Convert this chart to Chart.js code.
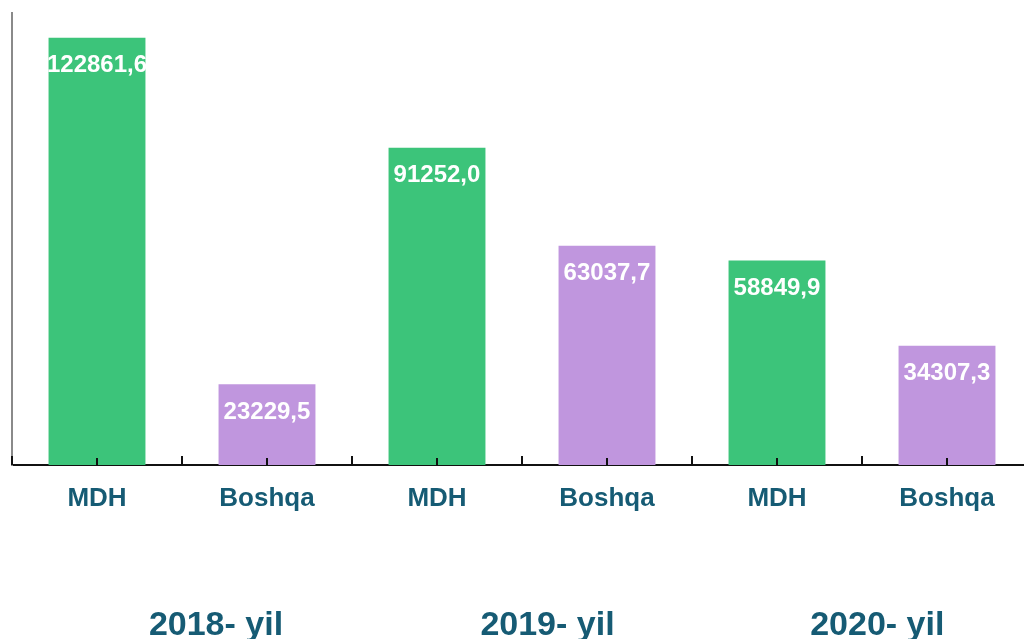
<!DOCTYPE html>
<html>
<head>
<meta charset="utf-8">
<script src="https://cdn.jsdelivr.net/npm/chart.js@4.4.1/dist/chart.umd.min.js"></script>
<style>
  html, body { margin: 0; padding: 0; background: #ffffff; overflow: hidden; }
  #wrap { position: relative; width: 1032px; height: 639px; }
</style>
</head>
<body>
<div id="wrap"><canvas id="c"></canvas></div>
<script>
const categories = ["MDH", "Boshqa", "MDH", "Boshqa", "MDH", "Boshqa"];
const values = [122861.6, 23229.5, 91252.0, 63037.7, 58849.9, 34307.3];
const valueLabels = ["122861,6", "23229,5", "91252,0", "63037,7", "58849,9", "34307,3"];
const yearLabels = ["2018- yil", "2019- yil", "2020- yil"];

const GREEN = "#3CC47A";
const PURPLE = "#C096DE";
const TEAL = "#165B74";
const FONT = "'Liberation Sans', Arial, sans-serif";

const barColors = categories.map(c => c === "MDH" ? GREEN : PURPLE);

const overlay = {
  id: "overlay",
  afterDatasetsDraw(chart) {
    const ctx = chart.ctx;
    const meta = chart.getDatasetMeta(0);
    const x = chart.scales.x;
    const base = chart.chartArea.bottom;
    ctx.save();
    // value labels inside bars
    ctx.fillStyle = "#ffffff";
    ctx.font = "bold 24px " + FONT;
    ctx.textAlign = "center";
    ctx.textBaseline = "middle";
    meta.data.forEach((bar, i) => {
      ctx.fillText(valueLabels[i], bar.x, bar.y + 28);
    });
    // inward tick marks
    ctx.strokeStyle = "#111111";
    ctx.lineWidth = 2;
    const n = categories.length;
    const step = x.getPixelForValue(1) - x.getPixelForValue(0);
    for (let i = 0; i <= n; i++) {
      const px = x.getPixelForValue(0) - step / 2 + i * step;
      ctx.beginPath();
      ctx.moveTo(Math.round(px), base);
      ctx.lineTo(Math.round(px), base - 9);
      ctx.stroke();
    }
    for (let i = 0; i < n; i++) {
      const px = x.getPixelForValue(i);
      ctx.beginPath();
      ctx.moveTo(Math.round(px), base);
      ctx.lineTo(Math.round(px), base - 7);
      ctx.stroke();
    }
    // year labels
    ctx.fillStyle = TEAL;
    ctx.font = "bold 34px " + FONT;
    ctx.textBaseline = "alphabetic";
    const offsets = [0.2, 0.15, 0.09];
    yearLabels.forEach((t, k) => {
      const boundary = x.getPixelForValue(2 * k) + step / 2;
      ctx.fillText(t, boundary + offsets[k] * step, 635);
    });
    ctx.restore();
  }
};

new Chart(document.getElementById("c"), {
  type: "bar",
  data: {
    labels: categories,
    datasets: [{
      data: values,
      backgroundColor: barColors,
      borderWidth: 0,
      categoryPercentage: 1.0,
      barPercentage: 0.57
    }]
  },
  options: {
    responsive: true,
    maintainAspectRatio: false,
    animation: false,
    events: [],
    layout: { padding: { top: 13, left: 0, right: 0, bottom: 0 } },
    plugins: { legend: { display: false }, tooltip: { enabled: false } },
    scales: {
      x: {
        grid: { display: false, drawTicks: false },
        border: { display: true, color: "#111111", width: 2 },
        ticks: {
          color: TEAL,
          font: { family: FONT, size: 26, weight: "bold" },
          padding: 18,
          maxRotation: 0,
          autoSkip: false
        },
        afterFit(scale) { scale.height = 174; }
      },
      y: {
        min: 0,
        max: 130000,
        grid: { display: false, drawTicks: false },
        border: { display: true, color: "#8a8a8a", width: 2 },
        ticks: { display: false },
        afterFit(scale) { scale.width = 12; }
      }
    }
  },
  plugins: [overlay]
});
</script>
</body>
</html>
